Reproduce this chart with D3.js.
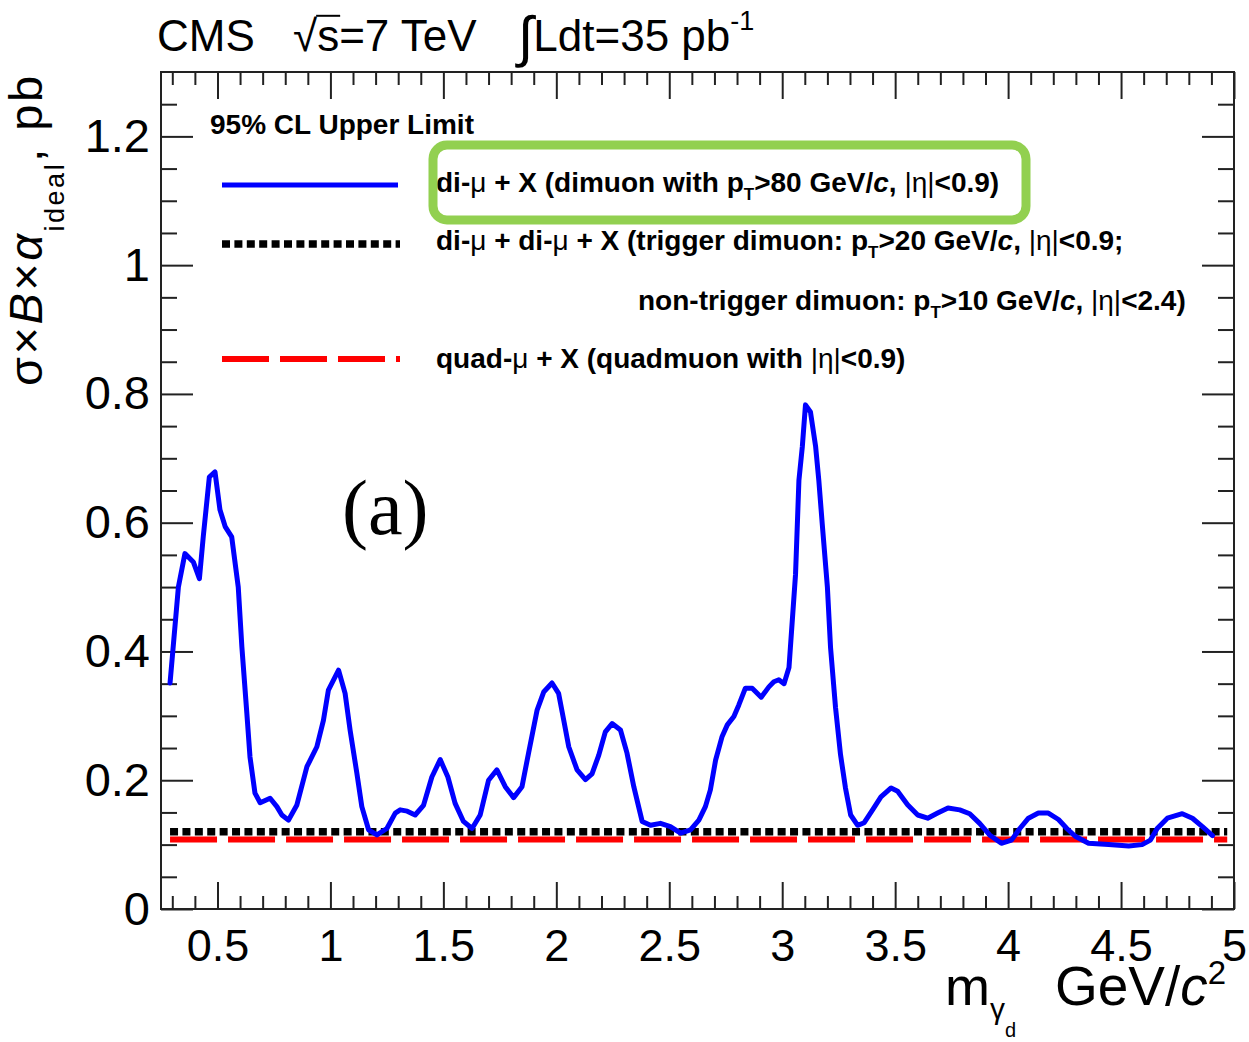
<!DOCTYPE html>
<html>
<head>
<meta charset="utf-8">
<title>95% CL upper limits, dark photon search</title>
<script src="https://cdn.jsdelivr.net/npm/d3@7"></script>
<style>
  html, body { margin: 0; padding: 0; background: #fff; }
  svg { display: block; }
  text { font-family: "Liberation Sans", Arial, Helvetica, sans-serif; fill: #000; }
</style>
</head>
<body>
<svg id="chart" width="1249" height="1042"></svg>
<script>
// Dark photon mass points, GeV/c^2
const massGeV = [
  0.29, 0.327, 0.356, 0.393, 0.42, 0.437, 0.464, 0.489, 0.511, 0.534,
  0.563, 0.592, 0.608, 0.63, 0.644, 0.666, 0.689, 0.733, 0.763, 0.785,
  0.814, 0.851, 0.896, 0.94, 0.969, 0.991, 1.036, 1.065, 1.087, 1.117,
  1.139, 1.169, 1.206, 1.25, 1.287, 1.309, 1.34, 1.375, 1.412, 1.449,
  1.486, 1.52, 1.552, 1.589, 1.627, 1.663, 1.70, 1.737, 1.774, 1.811,
  1.848, 1.877, 1.915, 1.944, 1.981, 2.01, 2.033, 2.055, 2.092, 2.129,
  2.158, 2.188, 2.217, 2.247, 2.284, 2.313, 2.343, 2.38, 2.417, 2.461,
  2.505, 2.55, 2.594, 2.631, 2.66, 2.682, 2.705, 2.734, 2.757, 2.786,
  2.808, 2.837, 2.867, 2.907, 2.941, 2.963, 2.985, 3.008, 3.03, 3.044,
  3.059, 3.074, 3.089, 3.103, 3.125, 3.148, 3.162, 3.177, 3.2, 3.214,
  3.236, 3.258, 3.28, 3.303, 3.334, 3.363, 3.40, 3.437, 3.482, 3.511,
  3.555, 3.6, 3.644, 3.688, 3.734, 3.786, 3.83, 3.874, 3.918, 3.97,
  4.015, 4.052, 4.09, 4.134, 4.178, 4.223, 4.26, 4.297, 4.356, 4.445,
  4.534, 4.593, 4.63, 4.66, 4.705, 4.771, 4.816, 4.86, 4.905
];
// 95% CL upper limit on sigma x B x alpha_ideal (pb), di-mu + X channel
const limitDiMu = [
  0.351, 0.50, 0.552, 0.539, 0.513, 0.578, 0.671, 0.679, 0.62, 0.594,
  0.578, 0.50, 0.407, 0.304, 0.236, 0.18, 0.165, 0.172, 0.159, 0.146,
  0.138, 0.161, 0.221, 0.252, 0.293, 0.34, 0.371, 0.335, 0.278, 0.211,
  0.159, 0.123, 0.115, 0.125, 0.149, 0.154, 0.152, 0.146, 0.161, 0.205,
  0.232, 0.205, 0.164, 0.136, 0.125, 0.146, 0.20, 0.216, 0.19, 0.173,
  0.19, 0.242, 0.309, 0.337, 0.351, 0.335, 0.293, 0.252, 0.216, 0.201,
  0.21, 0.239, 0.275, 0.288, 0.278, 0.242, 0.19, 0.136, 0.13, 0.133,
  0.128, 0.118, 0.123, 0.138, 0.159, 0.185, 0.231, 0.268, 0.286, 0.299,
  0.317, 0.343, 0.343, 0.329, 0.345, 0.353, 0.356, 0.35, 0.375, 0.445,
  0.52, 0.666, 0.718, 0.783, 0.772, 0.718, 0.666, 0.599, 0.50, 0.406,
  0.313, 0.24, 0.188, 0.146, 0.13, 0.134, 0.154, 0.174, 0.188, 0.183,
  0.162, 0.146, 0.141, 0.149, 0.157, 0.154, 0.148, 0.133, 0.115, 0.102,
  0.107, 0.125, 0.141, 0.149, 0.149, 0.139, 0.125, 0.113, 0.102, 0.10,
  0.098, 0.10, 0.107, 0.125, 0.141, 0.148, 0.141, 0.128, 0.114
];
// The di-mu + di-mu + X and quad-mu + X limits are flat in mass
const flatMassRange = [0.29, 4.97];
const limitDiDiMu = [0.12, 0.12];
const limitQuadMu = [0.108, 0.108];

// Axis ticks and labels
const xMajorTicks = [0.5, 1, 1.5, 2, 2.5, 3, 3.5, 4, 4.5, 5];
const xTickLabels = ["0.5", "1", "1.5", "2", "2.5", "3", "3.5", "4", "4.5", "5"];
const yMajorTicks = [0, 0.2, 0.4, 0.6, 0.8, 1, 1.2];
const yTickLabels = ["0", "0.2", "0.4", "0.6", "0.8", "1", "1.2"];

const svg = d3.select("#chart");
const frame = { left: 161, right: 1234, top: 72, bottom: 909 };

const x = d3.scaleLinear().domain([0.25, 5]).range([frame.left, frame.right]);
const y = d3.scaleLinear().domain([0, 1.3]).range([frame.bottom, frame.top]);

const xMinorTicks = d3.range(3, 50).map(v => v / 10).filter(v => Math.abs(v * 2 - Math.round(v * 2)) > 1e-6);
const yMinorTicks = d3.range(1, 26).map(v => v / 20).filter(v => Math.abs(v * 5 - Math.round(v * 5)) > 1e-6);

// Rich text helper: parts with optional size, baseline shift, italic, weight
function richText(g, px, py, size, parts, attrs = {}) {
  const t = g.append("text").attr("x", px).attr("y", py).attr("font-size", size);
  Object.entries(attrs).forEach(([k, v]) => t.style(k, v));
  let shift = 0;
  parts.forEach(p => {
    const s = p.shift || 0;
    const ts = t.append("tspan").text(p.t).attr("dy", s - shift);
    shift = s;
    if (p.size) ts.attr("font-size", p.size);
    if (p.italic) ts.style("font-style", "italic");
    if (p.weight) ts.style("font-weight", p.weight);
  });
  return t;
}

// Clip for data lines
svg.append("defs").append("clipPath").attr("id", "plotClip")
  .append("rect")
  .attr("x", frame.left).attr("y", frame.top)
  .attr("width", frame.right - frame.left).attr("height", frame.bottom - frame.top);

// Axes (ticks point inward on all four sides)
function styleAxis(g) {
  g.select(".domain").remove();
  g.selectAll(".tick line").attr("stroke", "#222").attr("stroke-width", 2);
}
const axisLayer = svg.append("g");

axisLayer.append("g").attr("transform", `translate(0,${frame.bottom})`)
  .call(d3.axisBottom(x).tickValues(xMajorTicks).tickFormat((d, i) => xTickLabels[i])
    .tickSizeInner(-27).tickSizeOuter(0).tickPadding(20))
  .call(styleAxis)
  .call(g => g.selectAll("text").attr("font-size", 45).attr("fill", "#000")
    .style("font-family", '"Liberation Sans", Arial, sans-serif'));
axisLayer.append("g").attr("transform", `translate(0,${frame.bottom})`)
  .call(d3.axisBottom(x).tickValues(xMinorTicks).tickFormat("").tickSizeInner(-13).tickSizeOuter(0))
  .call(styleAxis);
axisLayer.append("g").attr("transform", `translate(0,${frame.top})`)
  .call(d3.axisTop(x).tickValues(xMajorTicks).tickFormat("").tickSizeInner(-27).tickSizeOuter(0))
  .call(styleAxis);
axisLayer.append("g").attr("transform", `translate(0,${frame.top})`)
  .call(d3.axisTop(x).tickValues(xMinorTicks).tickFormat("").tickSizeInner(-13).tickSizeOuter(0))
  .call(styleAxis);

axisLayer.append("g").attr("transform", `translate(${frame.left},0)`)
  .call(d3.axisLeft(y).tickValues(yMajorTicks).tickFormat((d, i) => yTickLabels[i])
    .tickSizeInner(-32).tickSizeOuter(0).tickPadding(11))
  .call(styleAxis)
  .call(g => g.selectAll("text").attr("font-size", 47).attr("fill", "#000")
    .style("font-family", '"Liberation Sans", Arial, sans-serif'));
axisLayer.append("g").attr("transform", `translate(${frame.left},0)`)
  .call(d3.axisLeft(y).tickValues(yMinorTicks).tickFormat("").tickSizeInner(-16).tickSizeOuter(0))
  .call(styleAxis);
axisLayer.append("g").attr("transform", `translate(${frame.right},0)`)
  .call(d3.axisRight(y).tickValues(yMajorTicks).tickFormat("").tickSizeInner(-32).tickSizeOuter(0))
  .call(styleAxis);
axisLayer.append("g").attr("transform", `translate(${frame.right},0)`)
  .call(d3.axisRight(y).tickValues(yMinorTicks).tickFormat("").tickSizeInner(-16).tickSizeOuter(0))
  .call(styleAxis);

// Frame
svg.append("rect")
  .attr("x", frame.left).attr("y", frame.top)
  .attr("width", frame.right - frame.left).attr("height", frame.bottom - frame.top)
  .attr("fill", "none").attr("stroke", "#222").attr("stroke-width", 2);

// Limit curves
const dataLayer = svg.append("g").attr("clip-path", "url(#plotClip)");
const line = d3.line().x(d => x(d[0])).y(d => y(d[1]));

dataLayer.append("path")
  .datum(flatMassRange.map((m, i) => [m, limitQuadMu[i]]))
  .attr("d", line).attr("fill", "none")
  .attr("stroke", "#ff0000").attr("stroke-width", 6).attr("stroke-dasharray", "47,11");

dataLayer.append("path")
  .datum(flatMassRange.map((m, i) => [m, limitDiDiMu[i]]))
  .attr("d", line).attr("fill", "none")
  .attr("stroke", "#000").attr("stroke-width", 7.5).attr("stroke-dasharray", "8,4.4");

dataLayer.append("path")
  .datum(massGeV.map((m, i) => [m, limitDiMu[i]]))
  .attr("d", line).attr("fill", "none")
  .attr("stroke", "#0000ff").attr("stroke-width", 5)
  .attr("stroke-linejoin", "round").attr("stroke-linecap", "round");

// Legend
const legend = svg.append("g");
richText(legend, 210, 134, 28, [{ t: "95% CL Upper Limit" }], { "font-weight": 700 });

legend.append("line").attr("x1", 222).attr("x2", 398).attr("y1", 185).attr("y2", 185)
  .attr("stroke", "#0000ff").attr("stroke-width", 5);
legend.append("line").attr("x1", 222).attr("x2", 400).attr("y1", 244).attr("y2", 244)
  .attr("stroke", "#000").attr("stroke-width", 7.5).attr("stroke-dasharray", "8,4.4");
legend.append("line").attr("x1", 222).attr("x2", 400).attr("y1", 359).attr("y2", 359)
  .attr("stroke", "#ff0000").attr("stroke-width", 6).attr("stroke-dasharray", "47,11");

const T = (s) => ({ t: s, size: 17, shift: 8 });
richText(legend, 436, 192, 28, [
  { t: "di-" }, { t: "μ", weight: 400 }, { t: " + X (dimuon with p" }, T("T"),
  { t: ">80 GeV/" }, { t: "c", italic: true }, { t: ", " }, { t: "|η|", weight: 400 }, { t: "<0.9)" }
], { "font-weight": 700 });
richText(legend, 436, 250, 28, [
  { t: "di-" }, { t: "μ", weight: 400 }, { t: " + di-" }, { t: "μ", weight: 400 },
  { t: " + X (trigger dimuon: p" }, T("T"),
  { t: ">20 GeV/" }, { t: "c", italic: true }, { t: ", " }, { t: "|η|", weight: 400 }, { t: "<0.9;" }
], { "font-weight": 700 });
richText(legend, 638, 310, 28, [
  { t: "non-trigger dimuon: p" }, T("T"),
  { t: ">10 GeV/" }, { t: "c", italic: true }, { t: ", " }, { t: "|η|", weight: 400 }, { t: "<2.4)" }
], { "font-weight": 700 });
richText(legend, 436, 368, 28, [
  { t: "quad-" }, { t: "μ", weight: 400 }, { t: " + X (quadmuon with " }, { t: "|η|", weight: 400 }, { t: "<0.9)" }
], { "font-weight": 700 });

// Highlight box around the di-mu + X entry
svg.append("rect")
  .attr("x", 433).attr("y", 145).attr("width", 593).attr("height", 75)
  .attr("rx", 14).attr("ry", 14)
  .attr("fill", "none").attr("stroke", "#92d050").attr("stroke-width", 9);

// Panel tag
svg.append("text").attr("x", 342).attr("y", 534).attr("font-size", 78)
  .style("font-family", '"Liberation Serif", "Times New Roman", serif')
  .text("(a)");

// Header
richText(svg, 157, 51, 44, [{ t: "CMS" }]);
const sq = richText(svg, 293, 51, 44, [{ t: "√" }, { t: "s=7 TeV" }]);
{
  const e0 = sq.node().getExtentOfChar(0);
  const e1 = sq.node().getExtentOfChar(1);
  svg.append("line")
    .attr("x1", e0.x + e0.width - 1).attr("x2", e1.x + e1.width + 1)
    .attr("y1", 51 - 0.8 * 44).attr("y2", 51 - 0.8 * 44)
    .attr("stroke", "#000").attr("stroke-width", 2);
}
richText(svg, 518, 51, 44, [
  { t: "∫", size: 56, shift: 5 }, { t: "Ldt=35 pb", shift: 0 }, { t: "-1", size: 27, shift: -21 }
]);

// Axis titles
const yTitle = svg.append("g").attr("transform", "translate(42,386) rotate(-90)");
richText(yTitle, 0, 0, 47, [
  { t: "σ×" }, { t: "B", italic: true }, { t: "×" }, { t: "α", italic: true },
  { t: "ideal", size: 27, shift: 22 }, { t: ", pb", shift: 0 }
], { "letter-spacing": "2.5px" });

richText(svg, 945, 1005, 54, [
  { t: "m" }, { t: "γ", size: 30, shift: 14 }, { t: "d", size: 20, shift: 32 }
]);
richText(svg, 1055, 1005, 55, [
  { t: "GeV/" }, { t: "c", italic: true }, { t: "2", size: 33, shift: -21 }
]);
</script>
</body>
</html>
